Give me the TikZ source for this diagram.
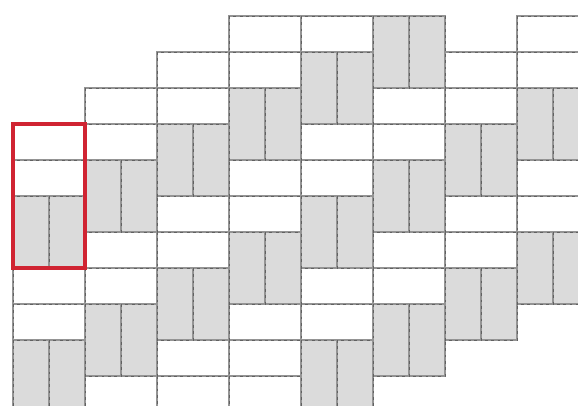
\documentclass[tikz,border=0pt]{standalone}
\usepackage{tikz}
\definecolor{boxred}{RGB}{208,36,50}
\tikzset{
  brick edge/.style={
    draw=black!42,
    line width=2pt,
    postaction={draw=black!62, line width=0.7pt, dash pattern=on 2pt off 2.5pt}
  },
  flat brick/.style={
    brick edge,
    fill=white
  },
  upright brick/.style={
    brick edge,
    fill=black!14
  },
  mark box/.style={
    draw=boxred,
    line width=2.6pt
  }
}

\begin{document}
\begin{tikzpicture}[x=0.9cm, y=-0.9cm]
    \useasboundingbox (-13/36, -16/36) rectangle (565/36, 389/36);

    % 横砖：一列两格宽，一格高
    \foreach \c/\rows in {0/{3,4,7,8}, 1/{2,3,6,7,10}, 2/{1,2,5,6,9,10},
                          3/{0,1,4,5,8,9,10}, 4/{0,3,4,7,8}, 5/{2,3,6,7},
                          6/{1,2,5,6}, 7/{0,1,4,5}} {
      \foreach \r in \rows {
        \draw[flat brick] (2*\c, \r) rectangle ++(2, 1);
      }
    }

    % 竖砖：两块并排，两格高
    \foreach \c/\rows in {0/{5,9}, 1/{4,8}, 2/{3,7}, 3/{2,6}, 4/{1,5,9},
                          5/{0,4,8}, 6/{3,7}, 7/{2,6}} {
      \foreach \r in \rows {
        \draw[upright brick] (2*\c, \r) rectangle ++(1, 2);
        \draw[upright brick] (2*\c+1, \r) rectangle ++(1, 2);
      }
    }

    % 红框
    \draw[mark box] (0, 3) rectangle (2, 7);

  \end{tikzpicture}
\end{document}
